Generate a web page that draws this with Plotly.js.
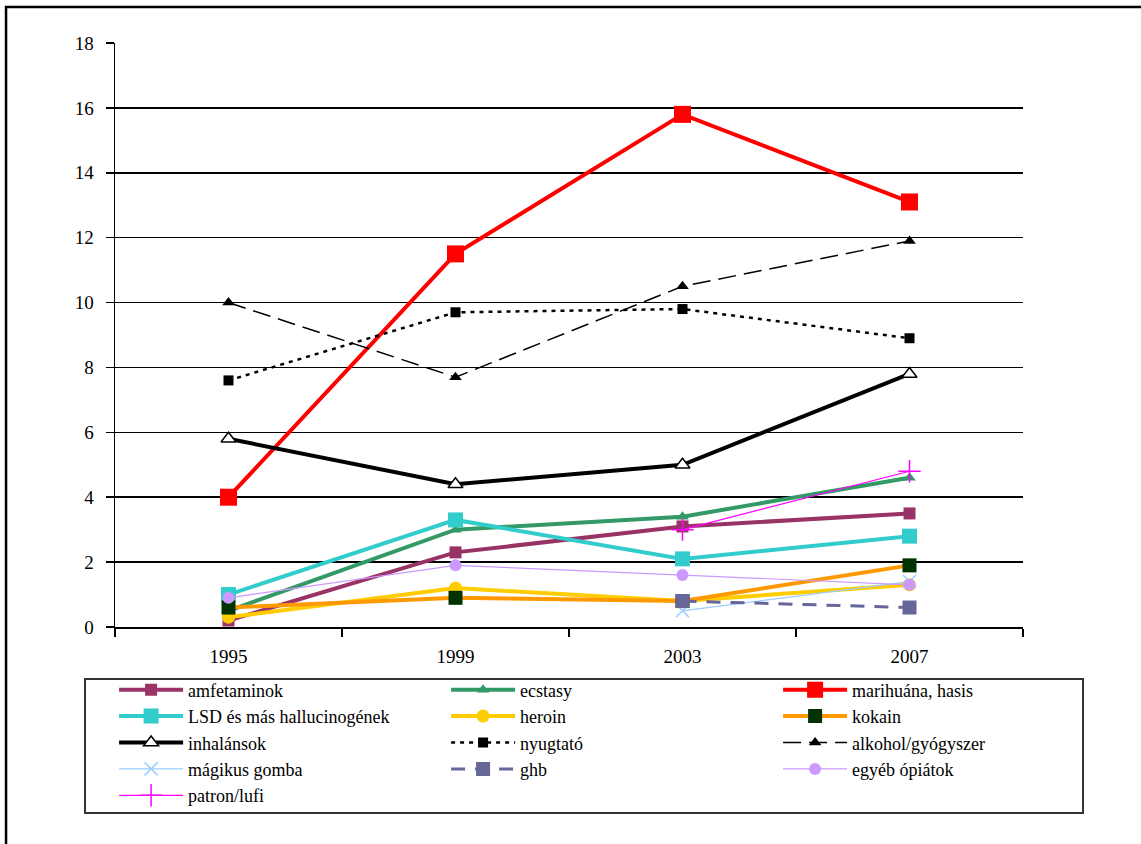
<!DOCTYPE html>
<html>
<head>
<meta charset="utf-8">
<script src="https://cdn.plot.ly/plotly-3.0.1.min.js"></script>
<style>html,body{margin:0;padding:0;background:#fff;}#chart{width:1141px;height:844px;}</style>
</head>
<body>
<div id="chart"></div>
<script>
const years = ['1995', '1999', '2003', '2007'];

const amfetaminok = [0.2, 2.3, 3.1, 3.5];
const ecstasy = [0.5, 3.0, 3.4, 4.6];
const marihuana = [4.0, 11.5, 15.8, 13.1];
const lsd = [1.0, 3.3, 2.1, 2.8];
const heroin = [0.3, 1.2, 0.8, 1.3];
const kokain = [0.6, 0.9, 0.8, 1.9];
const inhalansok = [5.8, 4.4, 5.0, 7.8];
const nyugtato = [7.6, 9.7, 9.8, 8.9];
const alkohol = [10.0, 7.7, 10.5, 11.9];
const magikusGomba = [null, null, 0.5, 1.4];
const ghb = [null, null, 0.8, 0.6];
const egyebOpiatok = [0.9, 1.9, 1.6, 1.3];
const patronLufi = [null, null, 3.0, 4.8];

const names = ['amfetaminok', 'ecstasy', 'marihuána, hasis', 'LSD és más hallucinogének', 'heroin', 'kokain',
  'inhalánsok', 'nyugtató', 'alkohol/gyógyszer', 'mágikus gomba', 'ghb', 'egyéb ópiátok', 'patron/lufi'];

const FONT = 'Liberation Serif';

function tr(name, y, line, marker) {
  return {x: years, y: y, name: name, type: 'scatter', mode: 'lines+markers', line: line, marker: marker, connectgaps: false};
}

const traces = [
  tr(names[0], amfetaminok, {color: '#993366', width: 4}, {symbol: 'square', size: 12, color: '#993366'}),
  tr(names[1], ecstasy, {color: '#339966', width: 4}, {symbol: 'triangle-up', size: 11, color: '#339966'}),
  tr(names[2], marihuana, {color: '#FF0000', width: 4}, {symbol: 'square', size: 17, color: '#FF0000'}),
  tr(names[3], lsd, {color: '#33CCCC', width: 4}, {symbol: 'square', size: 15, color: '#33CCCC'}),
  tr(names[4], heroin, {color: '#FFCC00', width: 4}, {symbol: 'circle', size: 13, color: '#FFCC00'}),
  tr(names[5], kokain, {color: '#FF9900', width: 4}, {symbol: 'square', size: 14, color: '#003300'}),
  tr(names[6], inhalansok, {color: '#000000', width: 4}, {symbol: 'triangle-up', size: 13, color: '#FFFFFF', line: {color: '#000000', width: 1.5}}),
  tr(names[7], nyugtato, {color: '#000000', width: 2.5, dash: '4px,5px'}, {symbol: 'square', size: 10, color: '#000000'}),
  tr(names[8], alkohol, {color: '#000000', width: 1.5, dash: '18px,8px'}, {symbol: 'triangle-up', size: 11, color: '#000000'}),
  tr(names[9], magikusGomba, {color: '#99CCFF', width: 1.2}, {symbol: 'x-thin-open', size: 13, line: {color: '#99CCFF', width: 1.5}, color: '#99CCFF'}),
  tr(names[10], ghb, {color: '#666699', width: 3, dash: '14px,10px'}, {symbol: 'square', size: 14, color: '#666699'}),
  tr(names[11], egyebOpiatok, {color: '#CC99FF', width: 1.2}, {symbol: 'circle', size: 12, color: '#CC99FF'}),
  tr(names[12], patronLufi, {color: '#FF00FF', width: 1.2}, {symbol: 'cross-thin-open', size: 16, line: {color: '#FF00FF', width: 1.5}, color: '#FF00FF'})
];

const layout = {
  width: 1141, height: 844,
  margin: {l: 115, r: 118, t: 43, b: 217},
  paper_bgcolor: '#FFFFFF', plot_bgcolor: '#FFFFFF',
  font: {family: FONT, size: 18, color: '#000000'},
  showlegend: true,
  xaxis: {
    type: 'category', range: [-0.5, 3.5],
    showline: true, linecolor: '#000000', linewidth: 1.5,
    ticks: 'outside', tickson: 'boundaries', ticklen: 8, tickwidth: 1.5, tickcolor: '#000000',
    showgrid: false, zeroline: false,
    tickfont: {family: FONT, size: 19, color: '#000000'}, ticklabelstandoff: 12
  },
  yaxis: {
    range: [0, 18], dtick: 2,
    showline: true, linecolor: '#000000', linewidth: 1.5,
    ticks: 'outside', ticklen: 8, tickwidth: 1.5, tickcolor: '#000000',
    showgrid: true, gridcolor: '#000000', gridwidth: 1.5, zeroline: false,
    tickfont: {family: FONT, size: 19, color: '#000000'}, ticklabelstandoff: 8
  },
  legend: {
    orientation: 'h', x: -0.001, xanchor: 'left', y: -0.0762, yanchor: 'top',
    bgcolor: 'rgba(0,0,0,0)', borderwidth: 0,
    entrywidth: 253, entrywidthmode: 'pixels', itemwidth: 64,
    font: {family: FONT, size: 18, color: '#000000'}, traceorder: 'normal'
  },
  shapes: [
    {type: 'rect', xref: 'paper', yref: 'paper', x0: -0.12, x1: 1.15, y0: -0.5, y1: 1.0616,
     line: {color: '#000000', width: 2.5}, fillcolor: 'rgba(0,0,0,0)', layer: 'below'},
    {type: 'rect', xref: 'paper', yref: 'paper', x0: -0.033, x1: 1.0661, y0: -0.3185, y1: -0.0890,
     line: {color: '#333333', width: 2}, fillcolor: 'rgba(0,0,0,0)', layer: 'below'}
  ]
};

Plotly.newPlot('chart', traces, layout, {displayModeBar: false, staticPlot: true}).then(function (gd) {
  gd.querySelectorAll('.legendtext').forEach(function (t) {
    t.style.fontFamily = "'Liberation Serif', serif";
  });
});
</script>
</body>
</html>
